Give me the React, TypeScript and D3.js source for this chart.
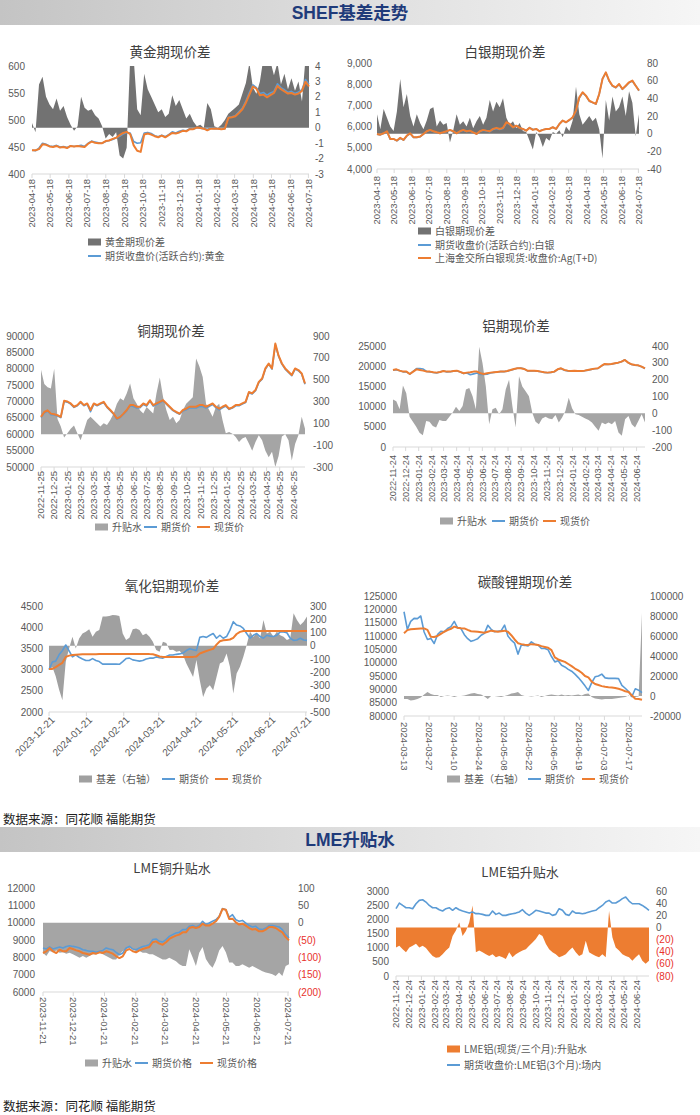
import React from 'react';
import * as d3 from 'd3';

// ---------------- DATA ----------------
const PM_TICKS = ['2023-04-18','2023-05-18','2023-06-18','2023-07-18','2023-08-18','2023-09-18','2023-10-18','2023-11-18','2023-12-18','2024-01-18','2024-02-18','2024-03-18','2024-04-18','2024-05-18','2024-06-18','2024-07-18'];
const CU_TICKS = ['2022-11-25','2022-12-25','2023-01-25','2023-02-25','2023-03-25','2023-04-25','2023-05-25','2023-06-25','2023-07-25','2023-08-25','2023-09-25','2023-10-25','2023-11-25','2023-12-25','2024-01-25','2024-02-25','2024-03-25','2024-04-25','2024-05-25','2024-06-25'];
const AL_TICKS = ['2022-11-24','2022-12-24','2023-01-24','2023-02-24','2023-03-24','2023-04-24','2023-05-24','2023-06-24','2023-07-24','2023-08-24','2023-09-24','2023-10-24','2023-11-24','2023-12-24','2024-01-24','2024-02-24','2024-03-24','2024-04-24','2024-05-24','2024-06-24'];
const AO_TICKS = ['2023-12-21','2024-01-21','2024-02-21','2024-03-21','2024-04-21','2024-05-21','2024-06-21','2024-07-21'];
const LC_TICKS = ['2024-03-13','2024-03-27','2024-04-10','2024-04-24','2024-05-08','2024-05-22','2024-06-05','2024-06-19','2024-07-03','2024-07-17'];
const LMECU_TICKS = ['2023-11-21','2023-12-21','2024-01-21','2024-02-21','2024-03-21','2024-04-21','2024-05-21','2024-06-21','2024-07-21'];
const LMEAL_TICKS = AL_TICKS;

const GOLD_BASIS = [0.3,-0.3,2.8,3.3,2.0,1.5,1.2,1.9,1.1,1.4,0.7,0.2,-0.2,0.1,2.0,1.3,1.1,1.2,0.8,0.6,0.1,-0.7,-0.4,-0.6,-0.3,-1.8,-2.0,-1.3,4.5,4.5,1.2,0.8,3.5,2.5,2.0,1.5,1.0,1.2,0.7,0.9,2.1,1.4,1.8,1.2,0.6,0.9,0.4,0.1,0.2,0.0,1.6,1.2,0.1,0.0,0.2,0.5,0.9,1.1,1.3,1.5,2.2,2.9,4.2,2.6,2.2,3.0,4.5,4.5,4.3,3.4,4.2,2.8,3.5,2.5,3.2,2.4,3.0,1.7,4.5,4.5];
const GOLD_FUT = [444,443,448,457,455,452,451,453,450,451,449,452,451,452,453,451,457,461,459,458,457,460,462,464,467,470,474,477,476,460,457,458,476,477,475,471,469,472,469,473,478,476,479,481,480,484,483,486,485,484,483,485,484,484,483,484,505,506,508,515,522,535,551,565,560,549,551,546,550,553,567,560,556,551,553,549,552,556,575,566];
const GOLD_SPOT = [444,444,446,455,454,451,450,452,449,450,448,452,451,452,451,450,456,460,458,457,457,461,462,465,467,472,476,478,474,453,443,441,473,475,473,470,468,471,468,472,476,475,477,480,479,483,483,486,485,484,481,484,484,484,483,484,504,505,507,513,520,532,547,562,558,546,547,542,546,550,563,557,553,549,550,547,549,554,571,562];

const SILVER_BASIS = [22,5,28,18,8,3,25,62,30,45,20,8,22,12,5,15,28,30,8,15,10,12,-10,4,22,10,14,8,18,6,14,20,10,18,38,25,36,30,40,18,10,14,6,12,3,2,-8,-18,2,-4,-15,-5,-8,2,0,4,-4,8,3,15,53,22,10,15,20,14,18,5,-28,38,15,42,25,30,42,20,48,35,-3,22];
const SILVER_FUT = [5640,5610,5670,5760,5400,5410,5330,5450,5360,5560,5670,5490,5490,5520,5640,5770,5830,5770,5720,5680,5720,5770,5830,5770,5680,5770,5830,5770,5800,5720,5650,5770,5830,5800,5760,5870,5910,5870,5910,6180,6110,5960,6040,5930,5890,5810,5950,5860,5890,5790,5850,5890,5890,5970,5890,6120,6280,6200,6300,6420,6720,7350,7600,7450,7200,7130,7060,7530,8260,8540,8150,7910,7830,7990,7760,7910,8070,8150,7930,7690];
const SILVER_SPOT = [5655,5620,5685,5780,5420,5420,5340,5470,5370,5575,5685,5500,5500,5530,5655,5780,5845,5780,5730,5685,5730,5780,5845,5780,5685,5780,5845,5780,5810,5730,5655,5780,5845,5810,5780,5890,5940,5890,5940,6205,6125,5970,6045,5940,5890,5810,5940,5845,5890,5780,5845,5890,5890,5970,5890,6125,6285,6205,6315,6440,6755,7380,7620,7460,7220,7145,7070,7540,8250,8560,8170,7930,7850,8010,7775,7930,8090,8170,7930,7700];

const CU_BASIS = [590,460,430,420,600,140,70,-30,10,50,80,10,-55,35,130,160,130,100,70,100,85,130,190,280,330,310,375,465,330,280,220,190,250,220,190,375,520,340,220,130,160,100,130,220,280,310,340,695,620,525,280,220,160,250,280,130,10,20,5,-25,-70,-40,-25,-85,-150,-70,-10,-55,-150,-210,-160,-300,-200,-20,0,-55,-240,-90,-10,160,50];
const CU_FUT = [65100,66500,67100,66000,65900,65600,65100,70000,69800,69200,68200,68700,69700,68700,69200,66900,69200,68700,69200,69700,68200,67200,66100,64600,65100,66100,67200,68700,68500,68000,68100,69100,68600,70100,68600,69100,69600,70200,69200,68200,67200,66600,66100,67100,67500,68000,68000,68000,68500,68500,68000,68500,69100,68100,67500,68100,68600,67600,68000,68700,68700,69200,69700,72700,72300,73300,75800,76800,79900,81400,79900,87300,83800,81400,79900,78900,77900,79900,79400,78400,75300];
const CU_SPOT = [65300,66800,67300,66300,66100,65800,65300,70200,70000,69400,68400,68900,69900,68900,69400,67400,69400,68900,69400,69900,68400,67400,66300,64800,65300,66300,67400,68900,68900,68400,68400,69400,68900,70400,68900,69400,69900,70400,69400,68400,67400,66800,66300,67400,67800,68400,68400,68400,68900,68900,68400,68900,69400,68400,67800,68400,68900,67800,68200,68900,68900,69400,69900,72900,72500,73500,76000,77000,80100,81600,80100,87700,84000,81600,80100,79100,78100,80100,79600,78600,75500];

const AL_BASIS = [82,72,24,165,120,-20,-50,-80,-115,-130,-45,-50,-75,-84,-40,-45,-45,-20,5,39,14,43,141,151,102,24,396,298,160,-65,24,33,-6,24,141,200,43,-84,220,160,131,102,4,-50,-65,-30,-20,-30,-35,-10,-55,-25,14,92,30,-6,-10,-20,-30,-40,-55,-80,-104,-55,-65,-55,-65,-45,-114,-133,-35,-16,-65,-84,-45,-6,-55];
const AL_FUT = [19000,19150,18850,18600,18600,18050,18700,19400,19400,19300,18700,18600,18450,18350,18550,18800,18600,18620,18780,18850,18550,18200,18300,17900,18100,18300,17950,17950,18000,18300,18450,18550,18650,18650,18780,19000,19250,19500,19550,19350,18850,18850,18850,18780,18620,18470,18380,18470,18620,19200,19430,19000,18850,18780,18850,18780,18780,18860,19020,19190,19360,19450,20020,20500,20430,20520,20680,20850,21100,21600,20850,20430,20270,20190,19860,19450];
const AL_SPOT = [19070,19230,18900,18660,18660,18080,18660,19230,19070,18900,18660,18660,18500,18410,18580,18820,18660,18660,18820,18900,18580,18250,18410,18500,18660,18660,18250,18080,18250,18410,18500,18580,18660,18660,18820,19070,19320,19480,19480,19320,18900,18900,18900,18820,18660,18500,18410,18500,18660,19230,19480,19070,18900,18820,18900,18820,18820,18900,19070,19230,19400,19480,20060,20550,20470,20550,20715,20880,21125,21540,20880,20470,20300,20220,19890,19480];

const AO_BASIS = [-184,-160,-230,-330,-411,-120,-20,68,-20,55,93,106,124,68,106,118,220,220,225,232,230,225,93,43,60,124,131,118,80,93,68,30,-33,-45,30,20,-33,-30,-45,-40,-70,-134,-184,-235,-108,-260,-386,-323,-298,-336,-235,-134,-121,-58,-159,-361,-210,-159,-83,5,106,68,93,55,194,93,106,68,106,80,68,43,55,245,194,156,182,220];
const AO_FUT = [3000,3180,3200,3350,3450,3580,3440,3300,3350,3290,3250,3215,3215,3260,3215,3190,3130,3130,3130,3130,3130,3125,3190,3260,3270,3230,3215,3200,3215,3250,3270,3270,3300,3280,3270,3310,3345,3345,3360,3370,3390,3450,3490,3470,3450,3760,3780,3760,3810,3850,3740,3810,3740,3780,3930,4130,4050,4030,3970,3850,3740,3810,3850,3780,3740,3810,3790,3780,3810,3890,3890,3870,3740,3690,3700,3740,3700,3690];
const AO_SPOT = [3015,3015,3060,3110,3160,3300,3330,3345,3350,3355,3360,3360,3362,3363,3364,3365,3365,3365,3365,3365,3365,3365,3365,3365,3365,3365,3365,3365,3365,3365,3365,3360,3340,3310,3300,3300,3295,3295,3295,3295,3295,3295,3295,3300,3310,3380,3410,3440,3465,3490,3590,3670,3690,3700,3710,3750,3840,3890,3910,3910,3910,3910,3910,3910,3910,3910,3910,3910,3910,3910,3910,3910,3910,3910,3910,3910,3910,3910];

const LC_BASIS = [-3000,-3000,-4500,-4000,-3000,-1500,1500,4000,2000,1000,1000,-1000,0,500,0,-1000,0,0,500,1500,2500,3000,2000,1500,-500,-3000,0,0,-500,-1000,0,1000,2500,3000,4000,1000,0,0,-500,0,500,-1000,0,1000,1500,1000,500,1500,500,1000,500,1000,1500,500,2000,2500,-1000,-2500,-3000,-3500,-3000,-3000,-3000,-2500,-2000,-1500,-1000,500,-1000,-1000,-500,83000];
const LC_FUT = [119100,112500,115500,116600,116500,117500,111500,108700,109100,107200,110500,111800,111600,112800,113500,115500,113000,112800,110500,109000,108000,108450,109000,110300,111000,114000,112500,111600,111800,112000,114100,110000,108450,107300,103200,106600,106500,106300,107800,106900,106600,105300,105300,104800,102300,100300,100700,99000,98400,97500,96800,95700,94400,92900,91300,89600,92500,94700,95000,95700,94300,94100,94100,94100,94000,91500,90400,89200,87300,90200,89700,88800];
const LC_SPOT = [111000,112200,112500,112600,112700,112800,112850,112300,109700,109600,110000,110800,111600,112200,112700,113500,113100,112900,112850,112300,111800,111700,111600,111400,111200,111600,112000,111800,111600,111800,112000,111600,110300,108700,107300,106950,106700,106600,106950,106800,106600,106200,105900,105600,104700,102000,101200,100700,100300,99500,98700,97800,97100,96200,95000,94500,92900,92000,91600,91200,90950,90800,90700,90500,90200,89800,89300,89000,87700,86450,86400,86100];

const LMECU_BASIS = [-87,-96,-82,-85,-80,-87,-85,-90,-87,-91,-96,-101,-96,-101,-96,-91,-91,-87,-91,-96,-101,-106,-106,-91,-82,-77,-72,-77,-82,-82,-87,-87,-91,-91,-96,-101,-106,-106,-101,-106,-111,-120,-125,-125,-77,-100,-125,-87,-70,-105,-120,-130,-110,-80,-67,-85,-115,-115,-125,-125,-120,-125,-130,-125,-130,-135,-140,-144,-146,-149,-154,-144,-154,-125,-120];
const LMECU_FUT = [8540,8480,8600,8480,8540,8600,8540,8630,8670,8630,8600,8540,8440,8400,8350,8350,8290,8350,8400,8540,8480,8440,8290,8150,8250,8540,8630,8480,8440,8540,8630,8670,8730,9020,9060,8920,8880,9020,9210,9310,9400,9440,9600,9600,9790,9830,9750,9830,10080,9890,9980,10080,10170,10360,10810,10750,10310,10460,10170,10080,10130,9980,9830,9750,9790,9630,9600,9690,9830,9830,9790,9750,9600,9310,9120];
const LMECU_SPOT = [8250,8350,8540,8350,8250,8440,8350,8350,8540,8480,8400,8350,8250,8210,8150,8250,8210,8290,8250,8350,8290,8210,8060,7960,8060,8400,8480,8350,8290,8400,8480,8540,8600,8870,8920,8790,8730,8870,9060,9170,9250,9310,9440,9440,9690,9750,9690,9750,9940,9830,9830,9940,10080,10330,10790,10750,10210,10230,10020,9890,9940,9830,9690,9600,9630,9500,9500,9600,9750,9750,9690,9560,9440,9170,8980];

const LMEAL_BASIS = [-33,-30,-36,-41,-33,-30,-27,-33,-30,-34,-41,-47,-50,-49,-44,-38,-33,-14,-5,8,-14,-6,8,36,-41,-38,-41,-44,-47,-44,-49,-47,-49,-52,-41,-49,-44,-41,-38,-36,-30,-25,-19,-11,-14,-27,-36,-41,-44,-49,-47,-44,-38,-33,-41,-47,-44,-22,-41,-44,-47,-49,-44,-49,27,-16,-33,-38,-44,-47,-49,-55,-49,-44,-55,-60,-55];
const LMEAL_FUT = [2375,2575,2490,2410,2410,2375,2550,2670,2690,2610,2490,2410,2410,2340,2295,2375,2410,2320,2410,2340,2295,2260,2220,2260,2200,2200,2175,2140,2140,2295,2175,2220,2140,2140,2175,2200,2220,2260,2340,2220,2140,2220,2320,2295,2260,2220,2220,2140,2175,2375,2320,2175,2140,2295,2220,2220,2200,2220,2260,2295,2320,2410,2490,2610,2670,2575,2575,2645,2730,2790,2645,2550,2550,2550,2490,2410,2320];

// ---------------- RENDERING ----------------
const parse = d3.timeParse('%Y-%m-%d');
const BLUE = '#5b9bd5';
const ORANGE = '#ed7d31';
const LABEL = '#595959';
const FONT = "'Liberation Sans', Arial, 'Noto Sans CJK SC', sans-serif";
const CJK = "'Noto Sans CJK SC', 'Liberation Sans', sans-serif";

type LegendItem = { kind: 'rect' | 'line'; color: string; x: number; y: number; text: string };
type Cfg = {
  id: string; title: string; titleX: number; titleY: number; titleSize?: number;
  x0: number; x1: number; y0: number; y1: number;
  start: string; end: string; ticks: string[]; rot: number; xLabelY: number; xFont: number;
  left: { domain: [number, number]; ticks: number[]; fmt: (v: number) => string; x: number };
  right: { domain: [number, number]; ticks: number[]; x: number; redNeg?: boolean };
  areas: { values: number[]; color: string }[];
  lines: { values: number[]; color: string; width: number }[];
  legend: LegendItem[];
};

const plain = (v: number) => String(v);
const comma = d3.format(',');

function Panel({ c }: { c: Cfg }) {
  const t0 = parse(c.start)!.getTime();
  const t1 = parse(c.end)!.getTime();
  const x = d3.scaleTime().domain([new Date(t0), new Date(t1)]).range([c.x0, c.x1]);
  const yL = d3.scaleLinear().domain(c.left.domain).range([c.y1, c.y0]);
  const yR = d3.scaleLinear().domain(c.right.domain).range([c.y1, c.y0]);
  const px = (n: number, i: number) => x(new Date(t0 + ((t1 - t0) * i) / (n - 1)));
  const clip = `clip-${c.id}`;
  return (
    <g>
      <defs>
        <clipPath id={clip}>
          <rect x={c.x0 - 1} y={c.y0} width={c.x1 - c.x0 + 2} height={c.y1 - c.y0} />
        </clipPath>
      </defs>
      <text x={c.titleX} y={c.titleY} textAnchor="middle" dy="0.35em" fontFamily={CJK} fontSize={c.titleSize ?? 13.5} fill="#404040">{c.title}</text>
      <g clipPath={`url(#${clip})`}>
        {c.areas.map((a, k) => {
          const gen = d3.area<number>().x((_, i) => px(a.values.length, i)).y0(yR(0)).y1((d) => yR(d));
          return <path key={'a' + k} d={gen(a.values) || ''} fill={a.color} />;
        })}
        {c.lines.map((l, k) => {
          const gen = d3.line<number>().x((_, i) => px(l.values.length, i)).y((d) => yL(d));
          return <path key={'l' + k} d={gen(l.values) || ''} fill="none" stroke={l.color} strokeWidth={l.width} strokeLinejoin="round" />;
        })}
      </g>
      <line x1={c.x0} x2={c.x1} y1={c.y1} y2={c.y1} stroke="#d9d9d9" strokeWidth={1} />
      {c.ticks.map((t) => {
        const tx = x(parse(t)!);
        return <line key={'tk' + t} x1={tx} x2={tx} y1={c.y1} y2={c.y1 + 4} stroke="#d9d9d9" />;
      })}
      {c.left.ticks.map((v) => (
        <text key={'yl' + v} x={c.left.x} y={yL(v)} dy="0.35em" textAnchor="end" fontFamily={FONT} fontSize={10} fill={LABEL}>{c.left.fmt(v)}</text>
      ))}
      {c.right.ticks.map((v) => (
        <text key={'yr' + v} x={c.right.x} y={yR(v)} dy="0.35em" textAnchor="start" fontFamily={FONT} fontSize={10}
          fill={c.right.redNeg && v < 0 ? '#e8322c' : LABEL}>
          {c.right.redNeg && v < 0 ? `(${-v})` : String(v)}
        </text>
      ))}
      {c.ticks.map((t) => {
        const tx = x(parse(t)!);
        if (c.rot === -45) {
          return (
            <text key={'xl' + t} transform={`translate(${tx + 4},${c.xLabelY}) rotate(-45)`} textAnchor="end" dy="0.35em" fontFamily={FONT} fontSize={c.xFont} fill={LABEL}>{t}</text>
          );
        }
        return (
          <text key={'xl' + t} transform={`translate(${tx},${c.xLabelY}) rotate(${c.rot})`} textAnchor={c.rot < 0 ? 'end' : 'start'} dy="0.35em" fontFamily={FONT} fontSize={c.xFont} fill={LABEL}>{t}</text>
        );
      })}
      {c.legend.map((it, k) => (
        <g key={'lg' + k}>
          {it.kind === 'rect' ? (
            <rect x={it.x} y={it.y - 3.5} width={13} height={7} fill={it.color} />
          ) : (
            <line x1={it.x} x2={it.x + 13} y1={it.y} y2={it.y} stroke={it.color} strokeWidth={2} />
          )}
          <text x={it.x + 17} y={it.y} dy="0.35em" fontFamily={CJK} fontSize={10} fill={LABEL}>{it.text}</text>
        </g>
      ))}
    </g>
  );
}

const range = (a: number, b: number, s: number) => d3.range(a, b + s / 2, s);

const PANELS: Cfg[] = [
  {
    id: 'gold', title: '黄金期现价差', titleX: 170, titleY: 52,
    x0: 32, x1: 309, y0: 66, y1: 174, start: '2023-04-18', end: '2024-07-19', ticks: PM_TICKS, rot: -90, xLabelY: 179, xFont: 9.5,
    left: { domain: [400, 600], ticks: range(400, 600, 50), fmt: plain, x: 25 },
    right: { domain: [-3, 4], ticks: range(-3, 4, 1), x: 315 },
    areas: [{ values: GOLD_BASIS, color: '#727272' }],
    lines: [{ values: GOLD_FUT, color: BLUE, width: 1.6 }, { values: GOLD_SPOT, color: ORANGE, width: 2 }],
    legend: [
      { kind: 'rect', color: '#727272', x: 88, y: 242, text: '黄金期现价差' },
      { kind: 'line', color: BLUE, x: 88, y: 256, text: '期货收盘价(活跃合约):黄金' },
    ],
  },
  {
    id: 'silver', title: '白银期现价差', titleX: 505, titleY: 52,
    x0: 377, x1: 639, y0: 63, y1: 169, start: '2023-04-18', end: '2024-07-19', ticks: PM_TICKS, rot: -90, xLabelY: 176, xFont: 9.5,
    left: { domain: [4000, 9000], ticks: range(4000, 9000, 1000), fmt: (v) => comma(v), x: 372 },
    right: { domain: [-40, 80], ticks: range(-40, 80, 20), x: 647 },
    areas: [{ values: SILVER_BASIS, color: '#727272' }],
    lines: [{ values: SILVER_FUT, color: BLUE, width: 1.6 }, { values: SILVER_SPOT, color: ORANGE, width: 2 }],
    legend: [
      { kind: 'rect', color: '#727272', x: 418, y: 231, text: '白银期现价差' },
      { kind: 'line', color: BLUE, x: 418, y: 245, text: '期货收盘价(活跃合约):白银' },
      { kind: 'line', color: ORANGE, x: 418, y: 258, text: '上海金交所白银现货:收盘价:Ag(T+D)' },
    ],
  },
  {
    id: 'cu', title: '铜期现价差', titleX: 171, titleY: 331,
    x0: 41, x1: 305, y0: 336, y1: 467, start: '2022-11-25', end: '2024-07-22', ticks: CU_TICKS, rot: -90, xLabelY: 471, xFont: 9.5,
    left: { domain: [50000, 90000], ticks: range(50000, 90000, 5000), fmt: plain, x: 34 },
    right: { domain: [-300, 900], ticks: range(-300, 900, 200), x: 313 },
    areas: [{ values: CU_BASIS, color: '#a5a5a5' }],
    lines: [{ values: CU_FUT, color: BLUE, width: 1.6 }, { values: CU_SPOT, color: ORANGE, width: 2 }],
    legend: [
      { kind: 'rect', color: '#a5a5a5', x: 95, y: 527, text: '升贴水' },
      { kind: 'line', color: BLUE, x: 144, y: 527, text: '期货价' },
      { kind: 'line', color: ORANGE, x: 197, y: 527, text: '现货价' },
    ],
  },
  {
    id: 'al', title: '铝期现价差', titleX: 516, titleY: 326,
    x0: 393, x1: 645, y0: 346, y1: 447, start: '2022-11-24', end: '2024-07-14', ticks: AL_TICKS, rot: -90, xLabelY: 455, xFont: 9.2,
    left: { domain: [0, 25000], ticks: range(0, 25000, 5000), fmt: plain, x: 386 },
    right: { domain: [-200, 400], ticks: range(-200, 400, 100), x: 652 },
    areas: [{ values: AL_BASIS, color: '#a5a5a5' }],
    lines: [{ values: AL_FUT, color: BLUE, width: 1.6 }, { values: AL_SPOT, color: ORANGE, width: 2 }],
    legend: [
      { kind: 'rect', color: '#a5a5a5', x: 440, y: 521, text: '升贴水' },
      { kind: 'line', color: BLUE, x: 492, y: 521, text: '期货价' },
      { kind: 'line', color: ORANGE, x: 543, y: 521, text: '现货价' },
    ],
  },
  {
    id: 'ao', title: '氧化铝期现价差', titleX: 172, titleY: 586,
    x0: 49, x1: 307, y0: 606, y1: 712, start: '2023-12-21', end: '2024-07-22', ticks: AO_TICKS, rot: -45, xLabelY: 718, xFont: 10,
    left: { domain: [2000, 4500], ticks: range(2000, 4500, 500), fmt: plain, x: 43 },
    right: { domain: [-500, 300], ticks: range(-500, 300, 100), x: 310 },
    areas: [{ values: AO_BASIS, color: '#a0a0a0' }],
    lines: [{ values: AO_FUT, color: BLUE, width: 1.6 }, { values: AO_SPOT, color: ORANGE, width: 2 }],
    legend: [
      { kind: 'rect', color: '#a0a0a0', x: 79, y: 779, text: '基差（右轴）' },
      { kind: 'line', color: BLUE, x: 162, y: 779, text: '期货价' },
      { kind: 'line', color: ORANGE, x: 215, y: 779, text: '现货价' },
    ],
  },
  {
    id: 'lc', title: '碳酸锂期现价差', titleX: 525, titleY: 582,
    x0: 404, x1: 642, y0: 596, y1: 716, start: '2024-03-13', end: '2024-07-24', ticks: LC_TICKS, rot: 90, xLabelY: 722, xFont: 9.5,
    left: { domain: [80000, 125000], ticks: range(80000, 125000, 5000), fmt: plain, x: 397 },
    right: { domain: [-20000, 100000], ticks: range(-20000, 100000, 20000), x: 650 },
    areas: [{ values: LC_BASIS, color: '#a5a5a5' }],
    lines: [{ values: LC_FUT, color: BLUE, width: 1.6 }, { values: LC_SPOT, color: ORANGE, width: 2 }],
    legend: [
      { kind: 'rect', color: '#a5a5a5', x: 447, y: 779, text: '基差（右轴）' },
      { kind: 'line', color: BLUE, x: 528, y: 779, text: '期货价' },
      { kind: 'line', color: ORANGE, x: 582, y: 779, text: '现货价' },
    ],
  },
  {
    id: 'lmecu', title: 'LME铜升贴水', titleX: 172, titleY: 868, titleSize: 13,
    x0: 43, x1: 289, y0: 888, y1: 992, start: '2023-11-21', end: '2024-07-22', ticks: LMECU_TICKS, rot: 90, xLabelY: 997, xFont: 9.5,
    left: { domain: [6000, 12000], ticks: range(6000, 12000, 1000), fmt: plain, x: 35 },
    right: { domain: [-200, 100], ticks: range(-200, 100, 50), x: 298, redNeg: true },
    areas: [{ values: LMECU_BASIS, color: '#a5a5a5' }],
    lines: [{ values: LMECU_FUT, color: BLUE, width: 1.6 }, { values: LMECU_SPOT, color: ORANGE, width: 2 }],
    legend: [
      { kind: 'rect', color: '#a5a5a5', x: 85, y: 1063, text: '升贴水' },
      { kind: 'line', color: BLUE, x: 135, y: 1063, text: '期货价格' },
      { kind: 'line', color: ORANGE, x: 200, y: 1063, text: '现货价格' },
    ],
  },
  {
    id: 'lmeal', title: 'LME铝升贴水', titleX: 520, titleY: 872, titleSize: 13,
    x0: 396, x1: 649, y0: 891, y1: 976, start: '2022-11-24', end: '2024-07-23', ticks: LMEAL_TICKS, rot: -90, xLabelY: 980, xFont: 9.5,
    left: { domain: [0, 3000], ticks: range(0, 3000, 500), fmt: plain, x: 389 },
    right: { domain: [-80, 60], ticks: range(-80, 60, 20), x: 656, redNeg: true },
    areas: [{ values: LMEAL_BASIS, color: ORANGE }],
    lines: [{ values: LMEAL_FUT, color: BLUE, width: 1.6 }],
    legend: [
      { kind: 'rect', color: ORANGE, x: 447, y: 1049, text: 'LME铝(现货/三个月):升贴水' },
      { kind: 'line', color: BLUE, x: 447, y: 1065, text: '期货收盘价:LME铝(3个月):场内' },
    ],
  },
];

function Header({ y, h, text, cy }: { y: number; h: number; text: string; cy: number }) {
  return (
    <g>
      <rect x={0} y={y} width={700} height={h} fill="url(#hdrGrad)" />
      <text x={350} y={cy} textAnchor="middle" dy="0.35em" fontFamily={FONT} fontWeight="bold" fontSize={17.5} fill="#1f3b7a">{text}</text>
    </g>
  );
}

export default function App() {
  return (
    <svg width={700} height={1115} style={{ position: 'absolute', left: 0, top: 0, background: '#fff' }}>
      <defs>
        <linearGradient id="hdrGrad" x1="0" x2="1" y1="0" y2="0">
          <stop offset="0" stopColor="#c4c4c4" />
          <stop offset="0.5" stopColor="#dedede" />
          <stop offset="1" stopColor="#f6f6f6" />
        </linearGradient>
      </defs>
      <rect x={0} y={0} width={700} height={1115} fill="#fff" />
      <Header y={0} h={25} text="SHEF基差走势" cy={13} />
      <Header y={827} h={25} text="LME升贴水" cy={840} />
      {PANELS.map((p) => <Panel key={p.id} c={p} />)}
      <text x={3} y={820} dy="0.35em" fontFamily={CJK} fontSize={12.5} fill="#222">数据来源：同花顺 福能期货</text>
      <text x={3} y={1107} dy="0.35em" fontFamily={CJK} fontSize={12.5} fill="#222">数据来源：同花顺 福能期货</text>
    </svg>
  );
}
